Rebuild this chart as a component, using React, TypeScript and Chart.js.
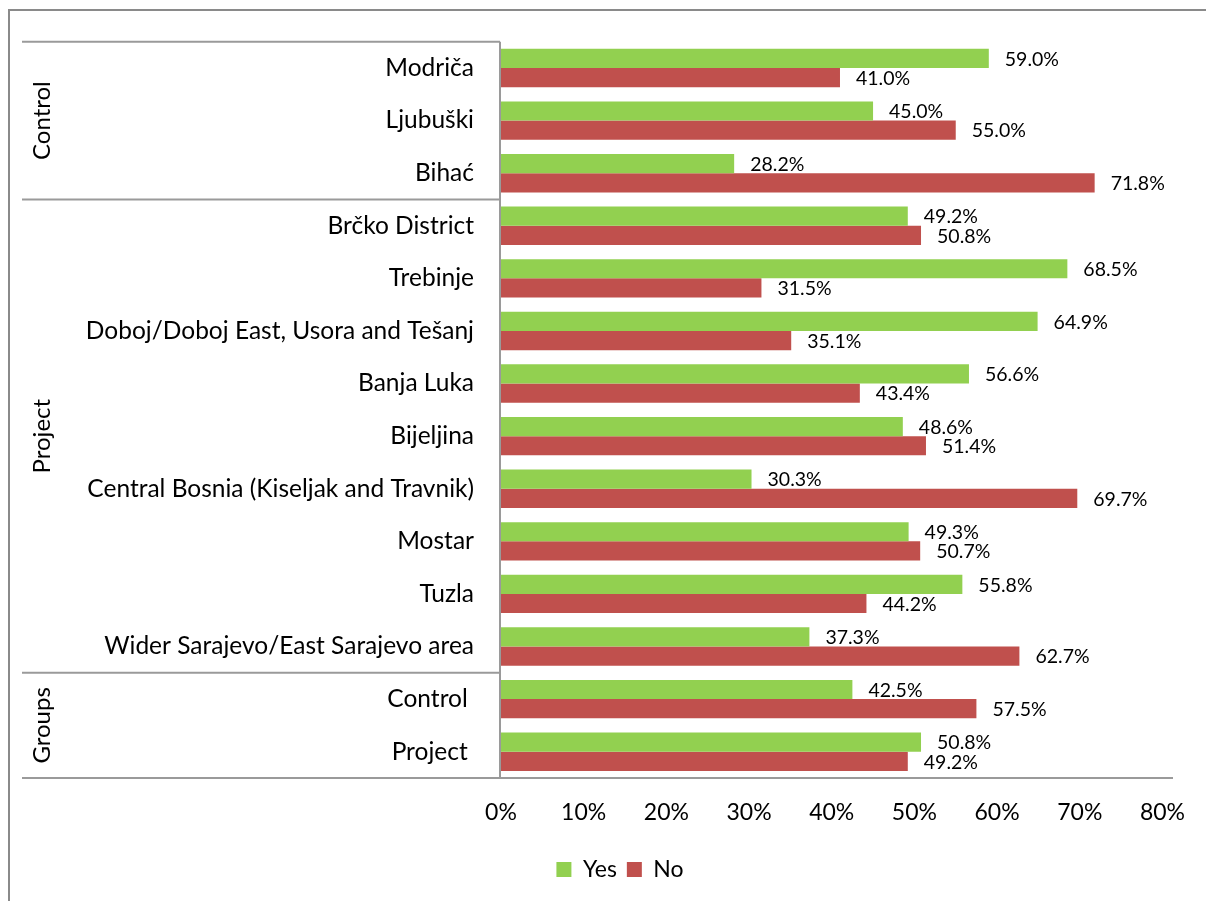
import React, { useEffect, useRef } from "react";
import { Chart, registerables } from "chart.js";

Chart.register(...registerables);

const categories = [
  "Modriča",
  "Ljubuški",
  "Bihać",
  "Brčko District",
  "Trebinje",
  "Doboj/Doboj East, Usora and Tešanj",
  "Banja Luka",
  "Bijeljina",
  "Central Bosnia (Kiseljak and Travnik)",
  "Mostar",
  "Tuzla",
  "Wider Sarajevo/East Sarajevo area",
  "Control ",
  "Project ",
];
const yesValues = [59.0, 45.0, 28.2, 49.2, 68.5, 64.9, 56.6, 48.6, 30.3, 49.3, 55.8, 37.3, 42.5, 50.8];
const noValues = [41.0, 55.0, 71.8, 50.8, 31.5, 35.1, 43.4, 51.4, 69.7, 50.7, 44.2, 62.7, 57.5, 49.2];
const seriesNames = ["Yes", "No"];
const groupNames = ["Control", "Project", "Groups"];
const groupSizes = [3, 9, 2];
const xMin = 0;
const xMax = 80;
const xStep = 10;

const FONT = "Lato";
const GREEN = "#92D050";
const RED = "#C0504D";
const LINE = "#9a9a9a";

const framePlugin = {
  id: "frame",
  beforeDraw(chart: any) {
    const ctx = chart.ctx;
    ctx.save();
    ctx.fillStyle = "#ffffff";
    ctx.fillRect(0, 0, chart.width, chart.height);
    ctx.strokeStyle = "#8a8a8a";
    ctx.lineWidth = 2;
    ctx.beginPath();
    ctx.moveTo(9, chart.height + 10);
    ctx.lineTo(9, 10);
    ctx.lineTo(chart.width + 10, 10);
    ctx.stroke();
    ctx.restore();
  },
};

const groupPlugin = {
  id: "groups",
  afterDraw(chart: any) {
    const ctx = chart.ctx;
    const y = chart.scales.y;
    const area = chart.chartArea;
    const n = categories.length;
    const boundary = (i: number) => {
      if (i <= 0) return area.top;
      if (i >= n) return area.bottom;
      return (y.getPixelForValue(i - 1) + y.getPixelForValue(i)) / 2;
    };
    ctx.save();
    ctx.strokeStyle = LINE;
    ctx.lineWidth = 2;
    ctx.beginPath();
    ctx.moveTo(area.left - 1, area.top);
    ctx.lineTo(area.left - 1, area.bottom);
    ctx.stroke();
    let idx = 0;
    const bounds: number[] = [boundary(0)];
    groupSizes.forEach((s) => {
      idx += s;
      bounds.push(boundary(idx));
    });
    bounds.forEach((b, i) => {
      ctx.beginPath();
      ctx.moveTo(22, b);
      ctx.lineTo(i === bounds.length - 1 ? 1173 : area.left - 1, b);
      ctx.stroke();
    });
    ctx.fillStyle = "#000";
    ctx.font = `24px ${FONT}`;
    ctx.textAlign = "center";
    ctx.textBaseline = "middle";
    groupNames.forEach((g, i) => {
      const cy = (bounds[i] + bounds[i + 1]) / 2;
      ctx.save();
      ctx.translate(42, cy);
      ctx.rotate(-Math.PI / 2);
      ctx.fillText(g, 0, 0);
      ctx.restore();
    });
    ctx.restore();
  },
};

const labelPlugin = {
  id: "valueLabels",
  afterDatasetsDraw(chart: any) {
    const ctx = chart.ctx;
    ctx.save();
    ctx.fillStyle = "#000";
    ctx.font = `19.5px ${FONT}`;
    ctx.textAlign = "left";
    ctx.textBaseline = "middle";
    chart.data.datasets.forEach((ds: any, di: number) => {
      const meta = chart.getDatasetMeta(di);
      meta.data.forEach((el: any, i: number) => {
        const v = ds.data[i];
        ctx.fillText(`${v.toFixed(1)}%`, el.x + 16, el.y + 1);
      });
    });
    ctx.restore();
  },
};

export default function App() {
  const ref = useRef<HTMLCanvasElement | null>(null);
  useEffect(() => {
    document.body.style.margin = "0";
    document.body.style.overflow = "hidden";
    const canvas = ref.current!;
    const chart = new Chart(canvas, {
      type: "bar",
      data: {
        labels: categories,
        datasets: [
          { label: seriesNames[0], data: yesValues, backgroundColor: GREEN, borderWidth: 0 },
          { label: seriesNames[1], data: noValues, backgroundColor: RED, borderWidth: 0 },
        ],
      },
      options: {
        indexAxis: "y",
        responsive: false,
        animation: false,
        events: [],
        datasets: { bar: { categoryPercentage: 0.73, barPercentage: 1 } },
        layout: { padding: { top: 40, left: 68, right: 34, bottom: 10 } },
        scales: {
          x: {
            min: xMin,
            max: xMax,
            ticks: {
              stepSize: xStep,
              padding: 21,
              color: "#000",
              font: { family: FONT, size: 23 },
              callback: (v: any) => `${v}%`,
            },
            grid: { display: false, drawTicks: false },
            border: { display: false },
            afterFit: (s: any) => {
              s.height = 70;
            },
          },
          y: {
            ticks: {
              padding: 27,
              color: "#000",
              font: { family: FONT, size: 24.5 },
            },
            grid: { display: false, drawTicks: false },
            border: { display: false },
            afterFit: (s: any) => {
              s.width = 501 - 68;
            },
          },
        },
        plugins: {
          legend: {
            position: "bottom",
            labels: {
              color: "#000",
              font: { family: FONT, size: 23 },
              boxWidth: 15,
              boxHeight: 15,
              padding: 10,
            },
          },
          tooltip: { enabled: false },
        },
      },
      plugins: [framePlugin, groupPlugin, labelPlugin],
    });
    return () => chart.destroy();
  }, []);
  return <canvas ref={ref} width={1206} height={901} style={{ display: "block" }} />;
}
